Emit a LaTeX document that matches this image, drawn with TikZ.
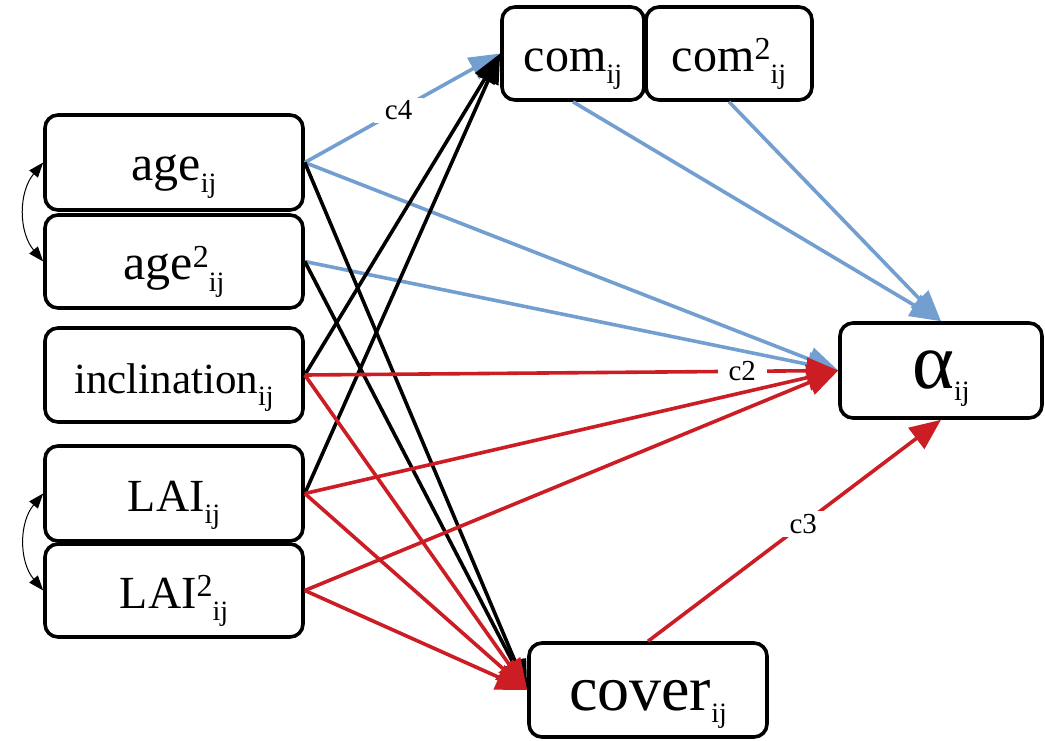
\documentclass[tikz,border=0pt]{standalone}
\usepackage{fontspec}
\setmainfont{Liberation Serif}
\usetikzlibrary{arrows.meta}
\definecolor{pathblue}{RGB}{114,159,207}
\definecolor{pathred}{RGB}{204,28,36}
\newcommand{\subij}{\raisebox{-12pt}{\fontsize{28}{28}\selectfont ij}}
\newcommand{\sqr}{\raisebox{12pt}{\fontsize{32}{32}\selectfont 2}}

\begin{document}
\begin{tikzpicture}[x=1pt, y=-1pt,
		var/.style={draw, line width=3.6pt, rounded corners=13pt, fill=white, inner sep=0pt,
			text height=36pt, text depth=0pt},
		bluearrow/.style={pathblue, line width=3.6pt, -{Triangle[length=31pt,width=24pt]}},
		blackarrow/.style={black, line width=3.6pt, -{Triangle[length=30pt,width=22pt]}},
		redarrow/.style={pathred, line width=3.6pt, -{Triangle[length=31pt,width=26pt]}},
		bothway/.style={black, line width=1pt, {Triangle[length=15pt,width=11pt]}-{Triangle[length=15pt,width=11pt]}},
		lbl/.style={fill=white, text=black, inner xsep=11pt, inner ysep=3pt, font=\fontsize{29}{29}\selectfont}]
			\useasboundingbox (0,0) rectangle (1045,740);
			% variables
			\node [var, minimum width=258, minimum height=95, font=\fontsize{50}{50}\selectfont] (age) at (174,162.5) {age\subij};
			\node [var, minimum width=258, minimum height=93, font=\fontsize{50}{50}\selectfont] (age2) at (174,261.5) {age\sqr\subij};
			\node [var, minimum width=258, minimum height=94, font=\fontsize{43}{43}\selectfont] (incl) at (174,375) {inclination\subij};
			\node [var, minimum width=258, minimum height=95, font=\fontsize{46}{46}\selectfont] (lai) at (174,493.5) {LAI\subij};
			\node [var, minimum width=258, minimum height=93, font=\fontsize{46}{46}\selectfont] (lai2) at (174,590.5) {LAI\sqr\subij};
			\node [var, minimum width=142, minimum height=93, font=\fontsize{48}{48}\selectfont] (com) at (573,53.5) {com\subij};
			\node [var, minimum width=166, minimum height=93, font=\fontsize{48}{48}\selectfont] (com2) at (729,53.5) {com\sqr\subij};
			\node [var, minimum width=202, minimum height=95, font=\fontsize{80}{80}\selectfont] (alpha) at (941,370.5) {α\subij};
			\node [var, minimum width=238, minimum height=94, font=\fontsize{64}{64}\selectfont, text height=40pt] (cover) at (648,690) {cover\subij};
			% correlations
			\draw [bothway] (age.west) to[bend right=40] (age2.west);
			\draw [bothway] (lai.west) to[bend right=40] (lai2.west);
			% paths
			\draw [bluearrow] (age.east) -- node [lbl, pos=0.48] {c4} (com.west);
			\draw [bluearrow] (age.east) -- (alpha.west);
			\draw [bluearrow] (age2.east) -- (alpha.west);
			\draw [bluearrow] (com.south) -- (alpha.north);
			\draw [bluearrow] (com2.south) -- (alpha.north);
			\draw [blackarrow] (age.east) -- (cover.west);
			\draw [blackarrow] (age2.east) -- (cover.west);
			\draw [blackarrow] (incl.east) -- (com.west);
			\draw [blackarrow] (lai.east) -- (com.west);
			\draw [redarrow] (lai.east) -- (alpha.west);
			\draw [redarrow] (lai2.east) -- (alpha.west);
			\draw [redarrow] (incl.east) -- (cover.west);
			\draw [redarrow] (lai.east) -- (cover.west);
			\draw [redarrow] (lai2.east) -- (cover.west);
			\draw [redarrow] (incl.east) -- node [lbl, pos=0.82] {c2} (alpha.west);
			\draw [redarrow] (cover.north) -- node [lbl, pos=0.53] {c3} (alpha.south);
		\end{tikzpicture}
\end{document}
